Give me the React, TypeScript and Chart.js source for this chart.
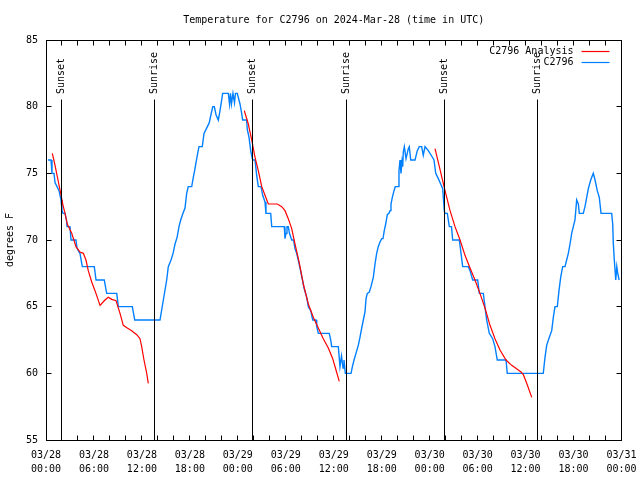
import React, { useEffect, useRef } from 'react';
import { Chart, registerables } from 'chart.js';

Chart.register(...registerables);

const FONT = "'DejaVu Sans Mono', monospace";

const chartTitle = 'Temperature for C2796 on 2024-Mar-28 (time in UTC)';
const yAxisTitle = 'degrees F';

const xTickDates = ['03/28', '03/28', '03/28', '03/28', '03/29', '03/29', '03/29', '03/29', '03/30', '03/30', '03/30', '03/30', '03/31'];
const xTickTimes = ['00:00', '06:00', '12:00', '18:00', '00:00', '06:00', '12:00', '18:00', '00:00', '06:00', '12:00', '18:00', '00:00'];

// hours since 03/28 00:00 UTC
const sunHours = [1.96, 13.55, 25.8, 37.57, 49.84, 61.47];
const sunLabels = ['Sunset', 'Sunrise', 'Sunset', 'Sunrise', 'Sunset', 'Sunrise'];

const seriesLabels = ['C2796 Analysis', 'C2796'];
const seriesColors = ['#ff0000', '#0080ff'];

const analysisHours = [
  0.79, 1.13, 1.5, 1.84, 2.13, 2.38, 2.66, 3.22, 3.75, 4.25, 4.67, 5.0, 5.29, 5.72, 6.13, 6.76, 7.38, 7.79, 8.22, 8.76, 9.26, 9.67, 10.17, 10.72, 11.35, 11.76, 11.97, 12.26, 12.6, 12.8,
  18.0,
  24.81, 25.31, 25.74, 26.15, 26.56, 26.99, 27.4, 27.81, 28.94, 29.49, 29.9, 30.31, 30.74, 31.15, 31.57, 31.78, 32.19, 32.82, 33.44, 34.07, 34.69, 35.32, 35.87, 36.28, 36.69,
  42.0,
  48.67, 49.29, 49.92, 50.55, 51.17, 51.8, 52.42, 53.05, 53.67, 54.29, 54.92, 55.55, 56.17, 56.8, 57.55, 58.26, 58.96, 59.43, 59.72, 60.14, 60.77,
];
const analysisTemps = [
  76.5, 75.6, 74.5, 73.5, 72.6, 72.0, 71.2, 70.5, 69.5, 69.1, 69.0, 68.5, 67.7, 66.85, 66.2, 65.1, 65.5, 65.7, 65.55, 65.45, 64.5, 63.6, 63.4, 63.2, 62.9, 62.6, 62.0, 61.0, 60.0, 59.25,
  null,
  79.7, 78.7, 77.5, 76.2, 75.2, 74.0, 73.35, 72.7, 72.7, 72.5, 72.2, 71.6, 70.85, 69.7, 68.6, 68.0, 66.7, 65.2, 64.2, 63.4, 62.6, 61.9, 61.1, 60.25, 59.4,
  null,
  76.85, 75.3, 73.7, 72.2, 71.0, 70.0, 68.85, 67.9, 67.0, 66.0, 64.9, 63.6, 62.6, 61.75, 61.0, 60.6, 60.3, 60.1, 59.9, 59.25, 58.2,
];

const observedHours = [
  0.25, 0.63, 0.75, 1.0, 1.13, 1.38, 1.63, 1.88, 2.0, 2.13, 2.38, 2.56, 2.63, 3.0, 3.13, 3.75, 3.88, 4.04, 4.25, 4.54, 6.04, 6.26, 7.29, 7.59, 8.85, 9.05, 10.8, 11.1,
  14.26, 14.68, 15.1, 15.3, 15.64, 15.9, 16.14, 16.4, 16.64, 16.85, 17.14, 17.39, 17.6, 17.8, 18.23, 18.43, 18.64, 18.93, 19.14, 19.55, 19.77, 20.02, 20.43, 20.6, 20.86, 21.06, 21.27, 21.56, 21.64, 21.77, 21.98, 22.1,
  22.81, 22.96, 23.08, 23.2, 23.39, 23.58, 23.7, 23.93, 24.27, 24.48, 24.6, 25.1, 25.18, 25.4, 25.61, 25.74, 25.86, 26.15, 26.36, 26.56, 26.9, 27.11, 27.4, 27.52, 28.11, 28.24,
  29.81, 29.9, 30.03, 30.15, 30.31, 30.46, 30.74, 30.97, 31.15, 31.36, 31.56, 31.78, 32.09, 32.28, 32.62, 32.82, 33.12, 33.37, 33.78, 33.87, 34.07, 35.44, 35.62, 35.74, 36.57,
  36.78, 36.97, 37.16, 37.28, 37.45, 38.16, 38.37, 38.54, 38.78, 39.07, 39.28, 39.5, 39.7, 39.91, 40.04, 40.2, 40.45, 40.66, 40.95, 41.16, 41.37, 41.57, 41.79, 42.0, 42.16,
  42.32, 42.5, 42.7, 42.91, 43.04, 43.16, 43.33, 43.54, 43.7, 44.08, 44.16, 44.29, 44.41, 44.54, 44.63, 44.7, 44.83, 45.04, 45.33, 45.45, 45.63, 46.17, 46.45, 46.7, 47.0,
  47.2, 47.42, 47.83, 48.25, 48.54, 48.76, 49.08, 49.38, 49.63, 49.83, 49.92, 50.21, 50.46, 50.73, 50.88, 51.71, 51.88, 52.13, 52.83, 53.05, 53.38, 54.01, 54.21, 54.71,
  54.92, 55.13, 55.46, 55.88, 56.17, 56.46, 57.55, 57.71, 62.21, 62.43, 62.64, 62.97, 63.27, 63.47, 63.68, 63.97, 64.18, 64.39, 64.64, 64.93, 65.14, 65.35, 65.56, 65.77,
  65.97, 66.18, 66.39, 66.6, 66.72, 67.22, 67.43, 67.65, 67.85, 68.15, 68.47, 68.69, 68.97, 69.22, 69.44, 70.77, 70.9, 70.98, 71.1, 71.28, 71.41, 71.53, 71.7,
];
const observedTemps = [
  76, 76, 75, 75, 74.3, 74, 73.7, 73, 72.2, 72, 72, 71.5, 71, 71, 70, 70, 69.4, 69.2, 69, 68, 68, 67, 67, 66, 66, 65, 65, 64,
  64, 65.5, 67, 68, 68.5, 69, 69.7, 70.2, 71, 71.5, 72, 72.4, 73.5, 74, 74, 74.7, 75.35, 76.35, 77, 77, 78, 78.3, 78.8, 79.3, 80, 80, 79.4, 79, 79, 79.7, 80.5, 81,
  81, 80.2, 81, 80.2, 81, 80.3, 81, 81, 80.2, 79.5, 79, 79, 78.3, 77.7, 76.7, 76.3, 76, 76, 74.85, 74, 74, 73.35, 72.85, 72, 72, 71,
  71, 70.1, 70.5, 71, 71, 70.5, 70, 70, 69.35, 69, 68.5, 67.9, 67, 66.4, 65.7, 65, 64.7, 64, 64, 63.5, 63, 63, 62.5, 62, 62,
  60.5, 61.3, 60.4, 61, 60, 60, 60.6, 61, 61.5, 62.1, 62.7, 63.4, 64, 64.6, 65.6, 66, 66.1, 66.5, 67.2, 68.2, 69, 69.5, 69.85, 70.1, 70.1,
  70.7, 71.2, 71.9, 72, 72.2, 72.7, 73.2, 73.7, 74, 74, 75.2, 76, 75, 75.9, 75.5, 76.6, 77, 76.1, 76.85, 77, 76, 76, 76.7, 77, 77,
  76.35, 77, 76.7, 76.3, 76, 75, 74.6, 74.2, 73.85, 72.2, 72, 72, 71, 71, 70, 70, 69.2, 68, 68, 67.7, 67, 67, 66, 66,
  65, 64, 63, 62.6, 62, 61, 61, 60, 60, 61.2, 62.1, 62.7, 63.2, 64.2, 65, 65, 66.2, 67.2, 68, 68, 68.5, 69, 69.7, 70.5,
  71, 71.5, 73, 72.7, 72, 72, 72.5, 73.2, 73.85, 74.5, 75, 74.5, 73.7, 73.2, 72, 72, 71.2, 69.7, 68.5, 67, 68, 67.5, 67,
];

const toPoints = (xs: number[], ys: (number | null)[]) => xs.map((h, i) => ({ x: h, y: ys[i] }));

const crisp = (v: number) => Math.floor(v) + 0.5;

const overlayPlugin = {
  id: 'gnuplotOverlay',
  afterDraw(chart: any) {
    const { ctx, chartArea: a, scales } = chart;
    const xs = scales.x;
    const ys = scales.y;
    const L = crisp(a.left);
    const R = crisp(a.right);
    const T = crisp(a.top);
    const B = crisp(a.bottom);
    ctx.save();
    ctx.strokeStyle = '#000';
    ctx.lineWidth = 1;

    // ticks (inward, mirrored)
    ctx.beginPath();
    for (let h = 2; h < 72; h += 2) {
      const px = crisp(xs.getPixelForValue(h));
      ctx.moveTo(px, B);
      ctx.lineTo(px, B - 5);
      ctx.moveTo(px, T);
      ctx.lineTo(px, T + 5);
    }
    for (let v = 60; v < 85; v += 5) {
      const py = crisp(ys.getPixelForValue(v));
      ctx.moveTo(L, py);
      ctx.lineTo(L + 5, py);
      ctx.moveTo(R, py);
      ctx.lineTo(R - 5, py);
    }
    ctx.stroke();

    // border
    ctx.strokeRect(L, T, R - L, B - T);

    ctx.fillStyle = '#000';
    ctx.font = `10px ${FONT}`;

    // sunrise / sunset markers
    sunHours.forEach((h, i) => {
      const px = crisp(xs.getPixelForValue(h));
      ctx.beginPath();
      ctx.moveTo(px, a.top + 59.5);
      ctx.lineTo(px, B);
      ctx.stroke();
      ctx.save();
      ctx.translate(px, a.top + 54);
      ctx.rotate(-Math.PI / 2);
      ctx.textAlign = 'left';
      ctx.textBaseline = 'middle';
      ctx.fillText(sunLabels[i], 0, 0);
      ctx.restore();
    });

    // title
    ctx.textAlign = 'center';
    ctx.textBaseline = 'middle';
    ctx.fillText(chartTitle, (a.left + a.right) / 2, 20);

    // y axis title
    ctx.save();
    ctx.translate(10, (a.top + a.bottom) / 2);
    ctx.rotate(-Math.PI / 2);
    ctx.textAlign = 'center';
    ctx.textBaseline = 'middle';
    ctx.fillText(yAxisTitle, 0, 0);
    ctx.restore();

    // legend
    chart.data.datasets.forEach((ds: any, i: number) => {
      const ly = a.top + 11.5 + i * 11;
      ctx.textAlign = 'right';
      ctx.textBaseline = 'middle';
      ctx.fillStyle = '#000';
      ctx.fillText(ds.label, a.right - 48, ly);
      ctx.strokeStyle = ds.borderColor;
      ctx.lineWidth = 1.2;
      ctx.beginPath();
      ctx.moveTo(a.right - 40, Math.floor(ly) + 0.5);
      ctx.lineTo(a.right - 12, Math.floor(ly) + 0.5);
      ctx.stroke();
    });
    ctx.restore();
  },
};

export default function App() {
  const canvasRef = useRef<HTMLCanvasElement | null>(null);

  useEffect(() => {
    if (!canvasRef.current) return;
    const chart = new Chart(canvasRef.current, {
      type: 'line',
      data: {
        datasets: [
          {
            label: seriesLabels[0],
            data: toPoints(analysisHours, analysisTemps),
            borderColor: seriesColors[0],
            backgroundColor: seriesColors[0],
            borderWidth: 1.2,
            pointRadius: 0,
            tension: 0,
            spanGaps: false,
          },
          {
            label: seriesLabels[1],
            data: toPoints(observedHours, observedTemps),
            borderColor: seriesColors[1],
            backgroundColor: seriesColors[1],
            borderWidth: 1.4,
            pointRadius: 0,
            tension: 0,
            spanGaps: false,
          },
        ],
      },
      options: {
        animation: false,
        responsive: false,
        devicePixelRatio: 1,
        layout: { padding: { top: 40, right: 18.5, left: 0, bottom: 0 } },
        plugins: {
          legend: { display: false },
          title: { display: false },
          tooltip: { enabled: false },
        },
        scales: {
          x: {
            type: 'linear',
            min: 0,
            max: 72,
            afterFit: (s: any) => { s.height = 40; s.paddingLeft = 0; s.paddingRight = 0; },
            grid: { display: false, drawTicks: false },
            border: { display: false },
            ticks: {
              stepSize: 6,
              autoSkip: false,
              maxRotation: 0,
              padding: 8,
              color: '#000',
              font: { family: FONT, size: 10, lineHeight: 1.4 },
              callback: (v: any) => {
                const i = Math.round(Number(v) / 6);
                return [xTickDates[i], xTickTimes[i]];
              },
            },
          },
          y: {
            type: 'linear',
            min: 55,
            max: 85,
            afterFit: (s: any) => { s.width = 46; s.paddingTop = 0; s.paddingBottom = 0; },
            grid: { display: false, drawTicks: false },
            border: { display: false },
            ticks: {
              stepSize: 5,
              padding: 8,
              color: '#000',
              font: { family: FONT, size: 10 },
              callback: (v: any) => String(v),
            },
          },
        },
      },
      plugins: [overlayPlugin],
    });
    return () => chart.destroy();
  }, []);

  return (
    <div style={{ position: 'absolute', left: 0, top: 0, width: 640, height: 480, background: '#fff' }}>
      <canvas ref={canvasRef} width={640} height={480} />
    </div>
  );
}
